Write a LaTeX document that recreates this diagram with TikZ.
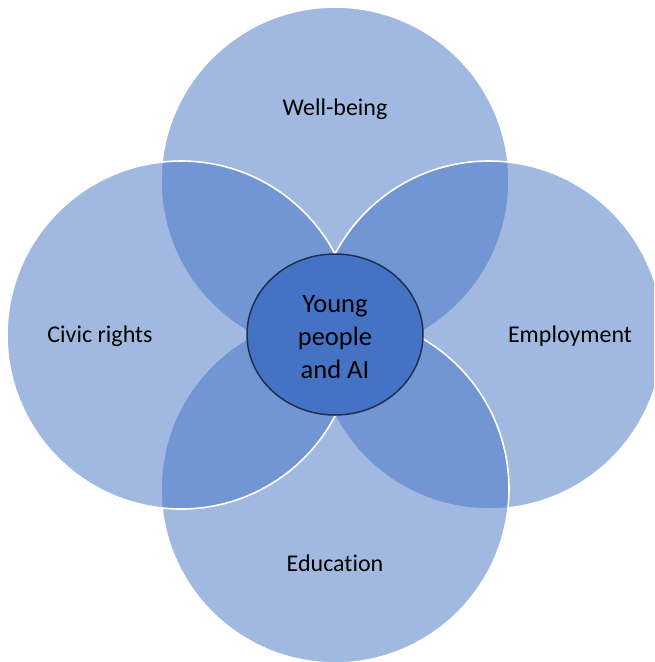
\documentclass[tikz,border=0pt]{standalone}
\usepackage{fontspec}
\setmainfont{Carlito}[Ligatures=NoCommon]
\usetikzlibrary{shapes.geometric}
\definecolor{accent}{HTML}{4472C4}
\definecolor{navy}{HTML}{1F3050}
\tikzset{
  petal/.style={circle, minimum size=348pt, inner sep=0pt, outer sep=0pt,
    fill=accent, fill opacity=0.5, draw=white, draw opacity=1, line width=1.6pt},
  petallabel/.style={font=\fontsize{24}{29}\selectfont, text=black, inner sep=0pt},
  hub/.style={ellipse, minimum width=176pt, minimum height=161pt, inner sep=0pt,
    fill=accent, draw=navy, line width=1.5pt, align=center, text=black,
    font=\fontsize{26.5}{33}\selectfont}
}
\begin{document}
\begin{tikzpicture}[x=1pt, y=-1pt]
\useasboundingbox (0,0) rectangle (654,662);
\clip (0,0) rectangle (654,662);
\node[petal] (top) at (335,181) {};
\node[petal] (right) at (489,335) {};
\node[petal] (bottom) at (335,489) {};
\node[petal] (left) at (181,335) {};
\node[hub] (hub) at (335,334.5) {};
\node[align=center, text=black, font=\fontsize{26.5}{33}\selectfont, inner sep=0pt] (hubtext) at (335,337) {Young\\people\\and AI};
\node[petallabel] (lt) at (335,109.5) {Well-being};
\node[petallabel] (lr) at (570,336.5) {Employment};
\node[petallabel] (lb) at (335,563.5) {Education};
\node[petallabel] (ll) at (100,336.5) {Civic rights};
\end{tikzpicture}
\end{document}
